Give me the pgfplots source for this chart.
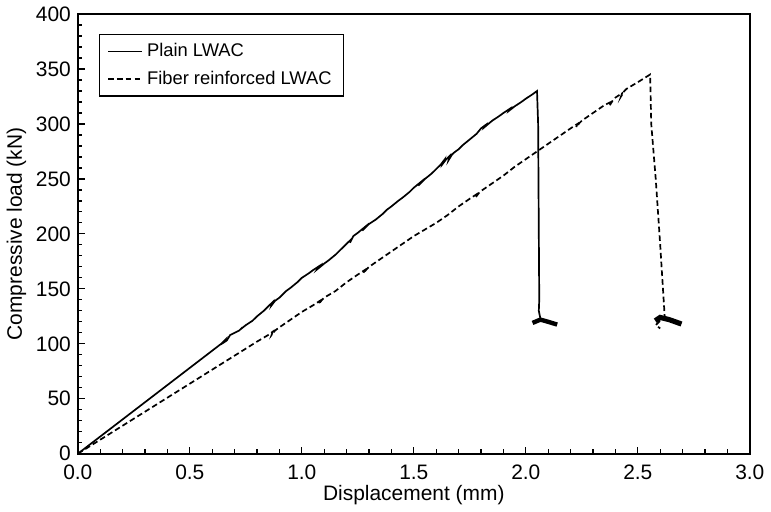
\documentclass[border=0pt]{standalone}
\usepackage{fontspec}
\setmainfont{Liberation Sans}
\usepackage{pgfplots}
\pgfplotsset{compat=1.18}

\begin{document}
\begin{tikzpicture}[font=\fontsize{10.5}{12.5}\selectfont]
\begin{axis}[
    scale only axis,
    width=337pt, height=220.5pt,
    xmin=0, xmax=3, ymin=0, ymax=400,
    xtick={0,0.5,...,3}, ytick={0,50,...,400},
    minor x tick num=4, minor y tick num=4,
    tick align=inside,
    xtick pos=bottom, ytick pos=left,
    major tick length=3.5pt, minor tick length=2.2pt,
    every tick/.style={black, line width=0.6pt},
    axis line style={line width=0.8pt},
    /pgf/number format/assume math mode=true,
    x tick label style={yshift=-2pt, /pgf/number format/fixed,
        /pgf/number format/fixed zerofill, /pgf/number format/precision=1},
    xlabel={Displacement (mm)},
    ylabel={Compressive load (kN)},
    xlabel style={yshift=4pt},
    ylabel style={yshift=-2pt},
    legend style={at={(0.031,0.955)}, anchor=north west, draw=black, line width=0.7pt,
        font=\fontsize{9.2}{11}\selectfont, row sep=1.5pt, inner xsep=4pt, inner ysep=2.5pt},
    legend cell align=left,
]
\addplot[black, line width=0.85pt] coordinates {
    (0,0) (0.64,100) (0.655,103) (0.65,101) (0.665,103) (0.68,108) (0.70,110)
    (0.72,112) (0.735,115) (0.725,113) (0.75,117) (0.78,121) (0.80,125) (0.83,130)
    (0.85,134) (0.87,138) (0.865,135) (0.88,139) (0.90,142) (0.93,148) (0.95,151)
    (0.98,156) (1.00,160) (1.03,164) (1.05,167) (1.08,171) (1.07,168) (1.10,173)
    (1.12,176) (1.15,181) (1.18,187) (1.20,191) (1.22,195) (1.215,192) (1.23,198)
    (1.25,201) (1.28,206) (1.27,203) (1.30,209) (1.33,213) (1.36,218) (1.38,222)
    (1.40,225) (1.43,230) (1.45,233) (1.48,238) (1.50,242) (1.53,247) (1.52,244)
    (1.55,250) (1.58,255) (1.60,259) (1.62,263) (1.635,267) (1.63,264) (1.645,268)
    (1.66,271) (1.655,267) (1.67,272) (1.68,274) (1.70,277) (1.72,281) (1.75,286)
    (1.78,291) (1.80,296) (1.82,299) (1.815,297) (1.85,303) (1.88,307) (1.90,310)
    (1.93,314) (1.925,312) (1.95,316) (1.98,320) (2.00,323) (2.03,327) (2.05,330)
    (2.055,300) (2.058,200) (2.06,140) (2.058,130) (2.065,123)
};
\addlegendentry{Plain LWAC}
\addplot[black, line width=0.85pt, dash pattern=on 2.8pt off 1.6pt] coordinates {
    (0,0) (0.80,102) (0.85,108) (0.87,111) (0.865,108) (0.88,112) (0.90,115)
    (0.95,122) (1.00,129) (1.05,135) (1.08,139) (1.075,136) (1.09,140) (1.10,142)
    (1.15,148) (1.20,156) (1.25,163) (1.28,167) (1.275,164) (1.29,168) (1.30,170)
    (1.35,177) (1.40,184) (1.45,191) (1.50,198) (1.55,204) (1.60,210) (1.65,217)
    (1.70,225) (1.75,232) (1.78,236) (1.775,233) (1.79,237) (1.80,239) (1.85,246)
    (1.90,253) (1.95,261) (2.00,268) (2.05,275) (2.10,282) (2.15,289) (2.20,296)
    (2.23,300) (2.225,297) (2.24,301) (2.25,303) (2.30,310) (2.35,317) (2.38,320)
    (2.375,317) (2.39,322) (2.40,324) (2.43,328) (2.425,325) (2.44,330) (2.45,332)
    (2.50,338) (2.555,345) (2.56,300) (2.58,250) (2.60,190) (2.62,125)
    (2.60,121) (2.58,117) (2.60,114)
};
\addlegendentry{Fiber reinforced LWAC}
% failure debris at the end of each test
\addplot[black, line width=2.2pt, forget plot] coordinates {
    (2.03,119) (2.065,122) (2.10,120) (2.14,117.5)
};
\addplot[black, line width=2.6pt, forget plot] coordinates {
    (2.578,121) (2.60,124) (2.64,122) (2.695,118)
};
\end{axis}
\end{tikzpicture}
\end{document}
